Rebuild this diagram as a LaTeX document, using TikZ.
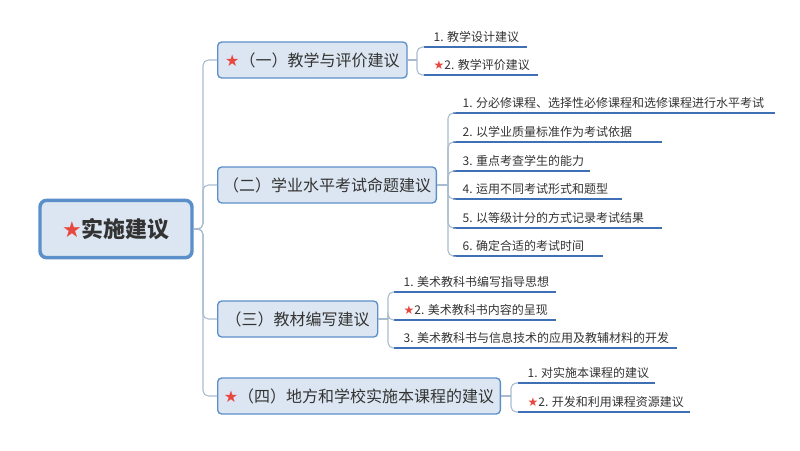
\documentclass[tikz,border=0pt]{standalone}
\usepackage{fontspec}
\setmainfont{Noto Sans CJK SC}
\newfontfamily\symfont{DejaVu Sans}
\definecolor{boxfill}{HTML}{DCE6F2}
\definecolor{boxline}{HTML}{5B8FC9}
\definecolor{uline}{HTML}{3F6FB5}
\definecolor{conn}{HTML}{A9BBD0}
\definecolor{starred}{HTML}{E8473F}
\definecolor{txt}{HTML}{333333}
\newcommand{\rstar}{{\symfont\color{starred}★}}
\tikzset{
  rootbox/.style={draw=boxline,line width=2.6pt,fill=boxfill,rounded corners=5pt,minimum width=114pt,minimum height=43pt,font=\fontsize{16.5}{18}\selectfont\bfseries,text=txt},
  branchbox/.style={draw=boxline,line width=1pt,fill=boxfill,rounded corners=3pt,minimum height=27pt,anchor=west,font=\fontsize{12}{14}\selectfont,text=txt,inner xsep=4pt},
  leaftext/.style={anchor=south west,font=\fontsize{9}{11}\selectfont,text=txt,inner sep=1pt},
  ul/.style={draw=uline,line width=1.4pt},
  connline/.style={draw=conn,line width=0.8pt,rounded corners=4pt}
}
\begin{document}
\begin{tikzpicture}[x=0.75pt,y=-0.75pt]
\useasboundingbox (0,0) rectangle (800,450);
% root
\node[rootbox] (root) at (116,229) {\rstar 实施建议};
% branches
\node[branchbox,minimum width=142pt] (b1) at (217,60) {\rstar（一）教学与评价建议};
\node[branchbox,minimum width=137pt] (b2) at (217,185) {（二）学业水平考试命题建议};
\node[branchbox,minimum width=120pt] (b3) at (217,319) {（三）教材编写建议};
\node[branchbox,minimum width=212pt] (b4) at (217,396) {\rstar（四）地方和学校实施本课程的建议};
\coordinate (trunk) at (203,229);
\foreach \b in {b1,b2,b3,b4}{\draw[connline] (root.east) -- (trunk) |- (\b.west);}
% leaves macro-like
\newcommand{\leaf}[5]{% name, x, y(underline), xend, text
  \coordinate (#1s) at (#2,#3);
  \coordinate (#1e) at (#4,#3);
  \node[leaftext] (#1) at ([xshift=6]#1s) [yshift=2pt] {#5};
  \draw[ul] (#1s) -- (#1e);}
% B1
\leaf{l11}{424}{47}{527}{1. 教学设计建议}
\leaf{l12}{424}{75}{538}{\rstar 2. 教学评价建议}
\coordinate (j1) at (417,60);
\draw[connline] (b1.east) -- (j1);
\foreach \l in {l11s,l12s}{\draw[connline] (j1) |- (\l);}
% B2
\leaf{l21}{453}{113}{775}{1. 分必修课程、选择性必修课程和选修课程进行水平考试}
\leaf{l22}{453}{142}{662}{2. 以学业质量标准作为考试依据}
\leaf{l23}{453}{171}{590}{3. 重点考查学生的能力}
\leaf{l24}{453}{199}{622}{4. 运用不同考试形式和题型}
\leaf{l25}{453}{228}{662}{5. 以等级计分的方式记录考试结果}
\leaf{l26}{453}{256}{603}{6. 确定合适的考试时间}
\coordinate (j2) at (448,185);
\draw[connline] (b2.east) -- (j2);
\foreach \l in {l21s,l22s,l23s,l24s,l25s,l26s}{\draw[connline] (j2) |- (\l);}
% B3
\leaf{l31}{394}{292}{556}{1. 美术教科书编写指导思想}
\leaf{l32}{394}{320}{556}{\rstar 2. 美术教科书内容的呈现}
\leaf{l33}{394}{348}{677}{3. 美术教科书与信息技术的应用及教辅材料的开发}
\coordinate (j3) at (388,319);
\draw[connline] (b3.east) -- (j3);
\foreach \l in {l31s,l32s,l33s}{\draw[connline] (j3) |- (\l);}
% B4
\leaf{l41}{518}{383}{655}{1. 对实施本课程的建议}
\leaf{l42}{518}{412}{690}{\rstar 2. 开发和利用课程资源建议}
\coordinate (j4) at (511,396);
\draw[connline] (b4.east) -- (j4);
\foreach \l in {l41s,l42s}{\draw[connline] (j4) |- (\l);}
\end{tikzpicture}
\end{document}
